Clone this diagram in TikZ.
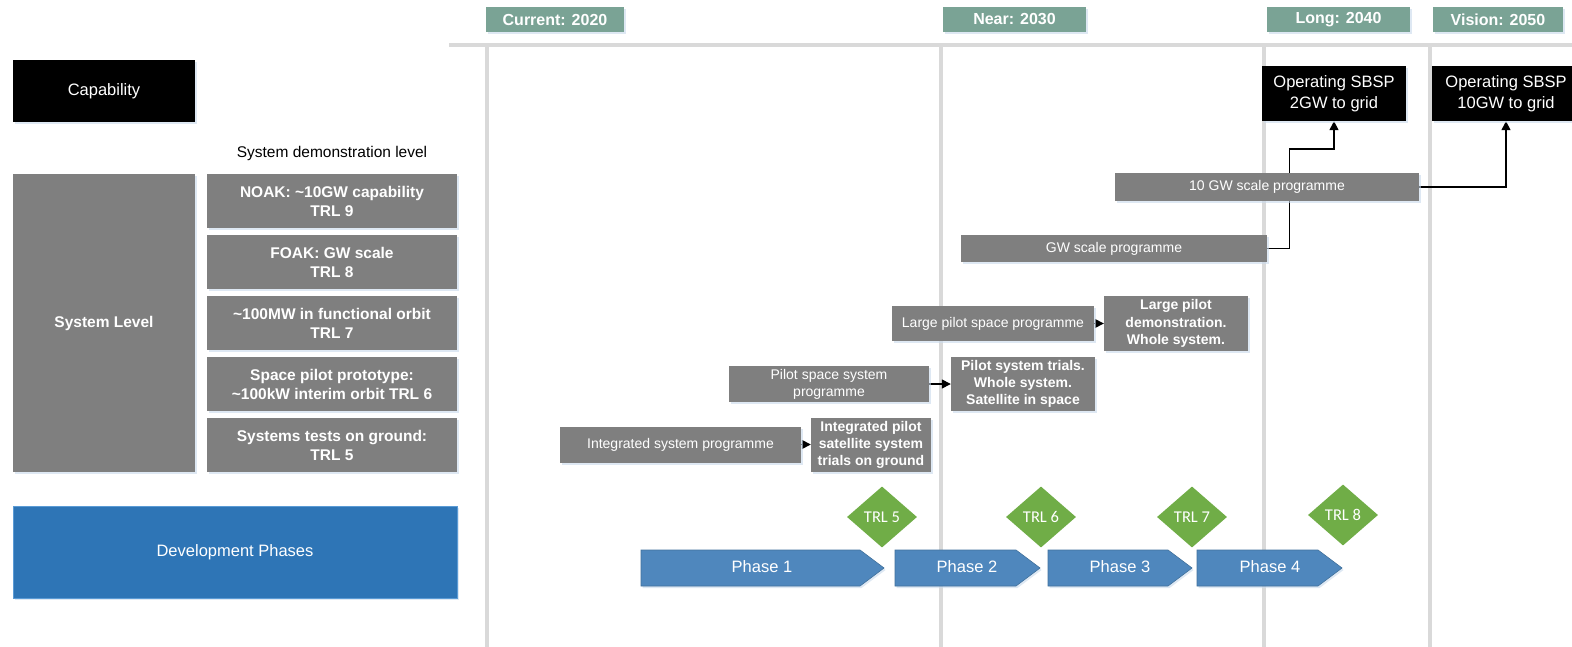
\documentclass[tikz,border=0pt]{standalone}
\usepackage{fontspec}
\setmainfont{Liberation Sans}
\newfontfamily\trlfont{Carlito}
\usetikzlibrary{arrows.meta,shapes.geometric,shadows,calc}

\definecolor{hdrgreen}{HTML}{7AA395}
\definecolor{boxgray}{HTML}{7F7F7F}
\definecolor{devblue}{HTML}{2E75B6}
\definecolor{devedge}{HTML}{5B9BD5}
\definecolor{phaseblue}{HTML}{4F87BD}
\definecolor{phaseedge}{HTML}{41719C}
\definecolor{trlgreen}{HTML}{70AD47}
\definecolor{gridgray}{HTML}{D9D9D9}
\definecolor{shadowblue}{HTML}{C9DAEC}

\pgfdeclarelayer{grid}
\pgfdeclarelayer{links}
\pgfsetlayers{grid,links,main}

\tikzset{
  softshadow/.style={drop shadow={shadow xshift=1.5pt,shadow yshift=-2pt,fill=shadowblue,opacity=0.6}},
  hdr/.style={fill=hdrgreen,text=white,inner sep=0pt,minimum height=25pt,
    font=\bfseries\fontsize{16}{19}\selectfont,softshadow},
  capbox/.style={fill=black,text=white,inner sep=0pt,align=center,
    font=\fontsize{16.5}{21}\selectfont,softshadow},
  graybox/.style={fill=boxgray,text=white,inner sep=0pt,align=center,softshadow},
  lvlbox/.style={graybox,font=\bfseries\fontsize{15.5}{19}\selectfont},
  progbox/.style={graybox,font=\fontsize{14}{17}\selectfont},
  resbox/.style={graybox,font=\bfseries\fontsize{14}{17.3}\selectfont},
  phase/.style={fill=phaseblue,draw=phaseedge,line width=0.6pt,softshadow},
  phasetext/.style={text=white,font=\fontsize{16.5}{20}\selectfont,inner sep=0pt},
  trl/.style={diamond,aspect=1.15,fill=trlgreen,text=white,inner sep=0pt,
    minimum width=70pt,minimum height=61pt,font=\trlfont\fontsize{16.5}{20}\selectfont},
  gridline/.style={draw=gridgray,line width=4.5pt},
  link/.style={draw=black,line width=1.4pt,-{Triangle[length=9pt,width=9pt]}},
}

\begin{document}
\begin{tikzpicture}[x=1pt,y=-1pt]
\useasboundingbox (0,0) rectangle (1572,647);

% timeline frame
\begin{pgfonlayer}{grid}
  \fill[white] (0,0) rectangle (1572,647);
  \coordinate (gl) at (449,45);
  \coordinate (gr) at (1572,45);
  \draw[gridline] (gl) -- (gr);
  \foreach \gx in {487,941,1264,1430}{
    \draw[gridline] (\gx,45) -- (\gx,647);
  }
\end{pgfonlayer}

% time horizons
\node[hdr,minimum width=138pt] (cur)  at (555,19.5)    {Current: 2020};
\node[hdr,minimum width=143pt] (near) at (1014.5,19.5) {Near: 2030};
\node[hdr,minimum width=143pt] (long) at (1338.5,19.5) {Long: 2040};
\node[hdr,minimum width=130pt] (vis)  at (1498,19.5)   {Vision: 2050};

% left column
\node[capbox,minimum width=182pt,minimum height=62pt] (cap) at (104,91) {Capability};
\node[font=\fontsize{15.5}{19}\selectfont,inner sep=0pt] (sdl) at (332,153) {System demonstration level};
\node[lvlbox,minimum width=182pt,minimum height=298pt] (sys) at (104,323) {System Level};
\node[lvlbox,minimum width=250pt,minimum height=54pt] (l9) at (332,201) {NOAK: \textasciitilde10GW capability\\TRL 9};
\node[lvlbox,minimum width=250pt,minimum height=54pt] (l8) at (332,262) {FOAK: GW scale\\TRL 8};
\node[lvlbox,minimum width=250pt,minimum height=54pt] (l7) at (332,323) {\textasciitilde100MW in functional orbit\\TRL 7};
\node[lvlbox,minimum width=250pt,minimum height=54pt] (l6) at (332,384) {Space pilot prototype:\\\textasciitilde100kW interim orbit TRL 6};
\node[lvlbox,minimum width=250pt,minimum height=54pt] (l5) at (332,445) {Systems tests on ground:\\TRL 5};
\node[fill=devblue,draw=devedge,line width=0.8pt,text=white,minimum width=444pt,minimum height=92pt,
  inner sep=0pt,font=\fontsize{16.5}{20}\selectfont,softshadow] (dev) at (235,552) {Development Phases};

% capability targets
\node[capbox,minimum width=144pt,minimum height=55pt] (op2)  at (1334,93.5) {Operating SBSP\\2GW to grid};
\node[capbox,minimum width=148pt,minimum height=55pt] (op10) at (1506,93.5) {Operating SBSP\\10GW to grid};

% programmes
\node[progbox,minimum width=304pt,minimum height=28pt] (tengw) at (1267,187) {10 GW scale programme};
\node[progbox,minimum width=306pt,minimum height=27pt] (gw)    at (1114,248.5) {GW scale programme};
\node[progbox,minimum width=202pt,minimum height=35pt] (lps)   at (993,323.5) {Large pilot space programme};
\node[resbox,minimum width=144pt,minimum height=55pt]  (lpd)   at (1176,323.5) {Large pilot\\demonstration.\\Whole system.};
\node[progbox,minimum width=200pt,minimum height=36pt] (pss)   at (829,384) {Pilot space system\\programme};
\node[resbox,minimum width=144pt,minimum height=54pt]  (pst)   at (1023,384) {Pilot system trials.\\Whole system.\\Satellite in space};
\node[progbox,minimum width=241pt,minimum height=36pt] (isp)   at (680.5,444.5) {Integrated system programme};
\node[resbox,minimum width=120pt,minimum height=54pt]  (ipt)   at (871,445) {Integrated pilot\\satellite system\\trials on ground};

% connectors
\begin{pgfonlayer}{links}
  \draw[link] (isp.east) -- (isp.east -| ipt.west);
  \draw[link] (pss.east) -- (pss.east -| pst.west);
  \draw[link] (lps.east) -- (lps.east -| lpd.west);
  \draw[link] (gw.east) -- ++(22,0) |- ($(op2.south)+(0,28)$) -- (op2.south);
  \draw[link] (tengw.east) -| (op10.south);
\end{pgfonlayer}

% development phases
\path[phase] (641,550) -- (860,550) -- (884,568) -- (860,586) -- (641,586) -- cycle;
\path[phase] (895,550) -- (1016,550) -- (1040,568) -- (1016,586) -- (895,586) -- cycle;
\path[phase] (1048,550) -- (1168,550) -- (1192,568) -- (1168,586) -- (1048,586) -- cycle;
\path[phase] (1197,550) -- (1318,550) -- (1342,568) -- (1318,586) -- (1197,586) -- cycle;
\node[phasetext] (p1) at (762,567) {Phase 1};
\node[phasetext] (p2) at (967,567) {Phase 2};
\node[phasetext] (p3) at (1120,567) {Phase 3};
\node[phasetext] (p4) at (1270,567) {Phase 4};

% readiness gates
\node[trl] (t5) at (882,517) {TRL 5};
\node[trl] (t6) at (1041,517) {TRL 6};
\node[trl] (t7) at (1192,517) {TRL 7};
\node[trl] (t8) at (1343,515) {TRL 8};
\end{tikzpicture}
\end{document}
